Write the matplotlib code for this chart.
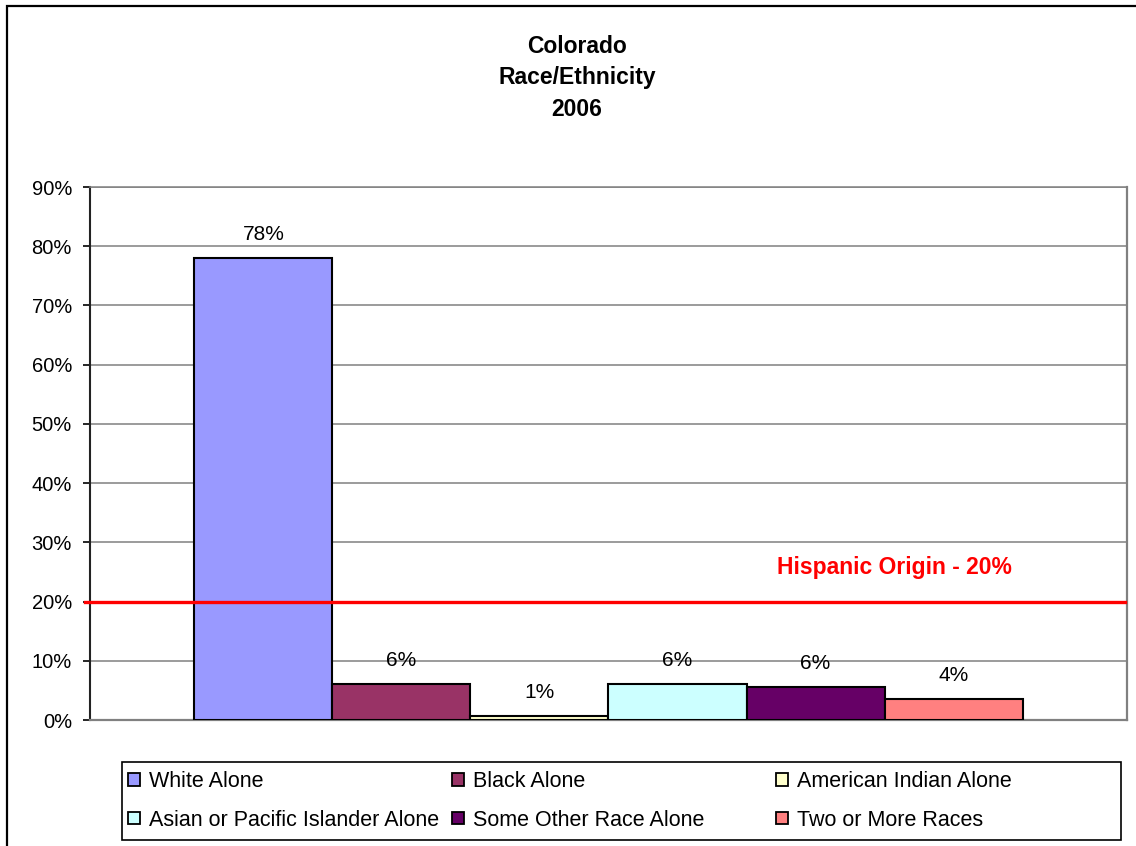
import matplotlib.pyplot as plt
from matplotlib.patches import Rectangle, Patch
from matplotlib.ticker import PercentFormatter

plt.rcParams['font.family'] = ['Liberation Sans', 'DejaVu Sans']

# === DATA ===
groups = ['White Alone', 'Black Alone', 'American Indian Alone',
          'Asian or Pacific Islander Alone', 'Some Other Race Alone',
          'Two or More Races']
shares = [0.78, 0.061, 0.007, 0.060, 0.056, 0.036]
colors = ['#9999FF', '#993366', '#FFFFCC', '#CCFFFF', '#660066', '#FF8080']
hispanic_share = 0.20
title_lines = ['Colorado', 'Race/Ethnicity', '2006']

BAR_W = 0.1331
GRID_COLOR = '#808080'

fig = plt.figure(figsize=(11.36, 8.46), dpi=100)
ax = fig.add_axes([0.0792, 0.1489, 0.9129, 0.630])

# bars side by side in one group, centred on 0
n = len(shares)
offsets = [(i - (n - 1) / 2) * BAR_W for i in range(n)]
bars = ax.bar(offsets, shares, width=BAR_W, color=colors,
              edgecolor='black', linewidth=1.5, zorder=3)

for b, v in zip(bars, shares):
    ax.annotate(f'{v:.0%}', (b.get_x() + b.get_width() / 2, v),
                xytext=(0, 13), textcoords='offset points',
                ha='center', va='baseline', fontsize=15, zorder=4)

# Hispanic origin reference line
ax.axhline(hispanic_share, xmin=-0.005, xmax=0.998, color='#FF0000',
           linewidth=2.4, zorder=5, clip_on=False)
ax.text(0.276, hispanic_share + 0.047, 'Hispanic Origin - 20%', color='#FF0000',
        fontsize=16.5, fontweight='bold', ha='center', va='baseline')

ax.set_xlim(-0.5, 0.5)
ax.set_ylim(0, 0.9)
ax.set_yticks([i / 10 for i in range(10)])
ax.yaxis.set_major_formatter(PercentFormatter(1.0, decimals=0))
ax.tick_params(axis='y', direction='out', length=5, width=1.2, labelsize=14.5,
               pad=8, colors='black')
ax.set_xticks([])
ax.yaxis.grid(True, color=GRID_COLOR, linewidth=1.1, zorder=0)
ax.set_axisbelow(True)

for side in ['top', 'right', 'bottom']:
    ax.spines[side].set_color(GRID_COLOR)
    ax.spines[side].set_linewidth(1.6)
ax.spines['top'].set_linewidth(1.1)
ax.spines['left'].set_color('#222222')
ax.spines['left'].set_linewidth(1.5)

# title
fig.text(0.508, 0.959, '\n'.join(title_lines), ha='center', va='top',
         fontsize=16.5, fontweight='bold', linespacing=1.47)

# outer chart border (runs off the right and bottom edges)
top = 1 - 6 / 846
fig.patches.append(Rectangle((7 / 1136, -0.02), 1.2, top + 0.02,
                             transform=fig.transFigure, fill=False,
                             edgecolor='black', linewidth=1.6))

# legend box with three equal columns
fig.patches.append(Rectangle((122 / 1136, 1 - 840 / 846), (1121 - 122) / 1136,
                             (840 - 762) / 846, transform=fig.transFigure,
                             facecolor='white', edgecolor='black', linewidth=1.2))
col_x = [122 / 1136, 446 / 1136, 770 / 1136]
for c in range(3):
    handles = [Patch(facecolor=colors[c], edgecolor='black', linewidth=1.3, label=groups[c]),
               Patch(facecolor=colors[c + 3], edgecolor='black', linewidth=1.3, label=groups[c + 3])]
    leg = fig.legend(handles=handles, loc='upper left',
                     bbox_to_anchor=(col_x[c], 1 - 765 / 846),
                     frameon=False, fontsize=15.5, handlelength=0.53,
                     handleheight=0.53, handletextpad=0.42,
                     labelspacing=0.8, borderpad=0.3, borderaxespad=0)

fig.savefig('out.png', dpi=100)
